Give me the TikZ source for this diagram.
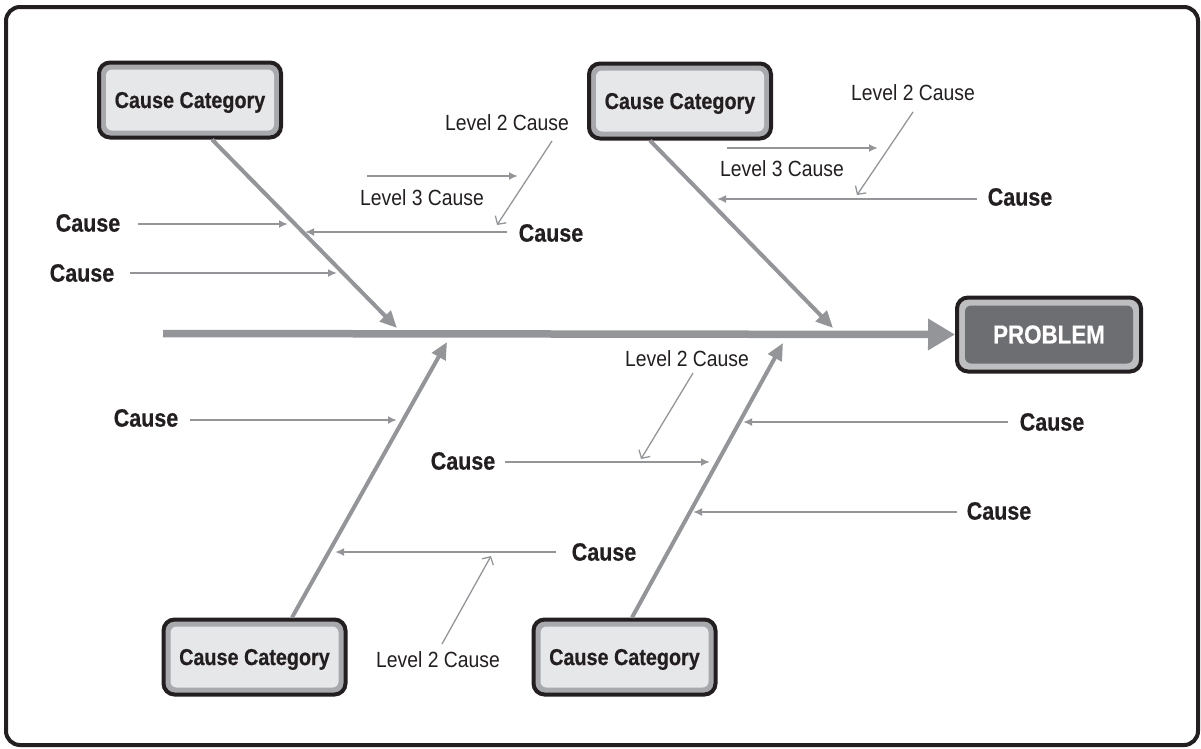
\documentclass[tikz,border=0pt]{standalone}
\usepackage{fontspec}
\usetikzlibrary{arrows.meta}
\newfontfamily\cfont[FakeStretch=0.86, BoldFeatures={FakeBold=0.5}]{Liberation Sans}
\newfontfamily\lfont[FakeStretch=0.88]{Liberation Sans}
\definecolor{fgray}{HTML}{939598}
\definecolor{ink}{HTML}{231F20}
\definecolor{band}{HTML}{A7A9AC}
\definecolor{pale}{HTML}{E6E7E8}
\definecolor{darkfill}{HTML}{6D6E71}
\definecolor{bandtwo}{HTML}{BCBEC0}
\tikzset{
  catbox/.style={draw=ink, line width=4pt, fill=band, rounded corners=11pt,
    minimum width=182pt, minimum height=75pt, inner sep=0pt, text=ink,
    text depth=0pt,
    font=\cfont\bfseries\fontsize{23}{27}\selectfont,
    path picture={\fill[pale, rounded corners=6pt]
      ([shift={(7pt,7pt)}]path picture bounding box.south west) rectangle
      ([shift={(-7pt,-7pt)}]path picture bounding box.north east);}},
  probbox/.style={draw=ink, line width=4pt, fill=bandtwo, rounded corners=11pt,
    minimum width=184pt, minimum height=74pt, inner sep=0pt, text=white,
    font=\cfont\bfseries\fontsize{26}{30}\selectfont,
    path picture={\fill[darkfill, rounded corners=6pt]
      ([shift={(8pt,8pt)}]path picture bounding box.south west) rectangle
      ([shift={(-8pt,-8pt)}]path picture bounding box.north east);}},
  causetxt/.style={text=ink, inner sep=0pt, font=\cfont\bfseries\fontsize{25}{29}\selectfont},
  lvltxt/.style={text=ink, inner sep=0pt, font=\lfont\fontsize{22}{26}\selectfont},
  bone/.style={draw=fgray, line width=4pt, -{Triangle[length=17pt,width=15pt]}},
  spine/.style={draw=fgray, line width=7.5pt, -{Triangle[length=27pt,width=30pt]}},
  causearr/.style={draw=fgray, line width=2pt, -{Latex[length=9pt,width=8pt]}},
  lvlarr/.style={draw=fgray, line width=1.3pt, -{Straight Barb[length=6pt,width=13pt]}},
}
\begin{document}
\begin{tikzpicture}[x=1pt,y=-1pt]
\useasboundingbox (0,0) rectangle (1201,748);
\draw[ink, line width=4pt, rounded corners=14pt] (6,7) rectangle (1198,745);

% boxes
\node[catbox] (tl) at (190,100) {Cause Category};
\node[catbox] (tr) at (680,101) {Cause Category};
\node[catbox] (bl) at (254.5,657) {Cause Category};
\node[catbox] (br) at (624.5,657) {Cause Category};
\node[probbox] (prob) at (1049,334.5) {PROBLEM};

% spine
\coordinate (spst) at (163,333.5);
\draw[spine] (spst) -- (prob.west);

% bones
\coordinate (tlend) at (397,328);
\coordinate (trend) at (833,328);
\coordinate (blend) at (447,342);
\coordinate (brend) at (783,343);
\draw[bone] ([xshift=22pt]tl.south) -- (tlend);
\draw[bone] ([xshift=-30pt]tr.south) -- (trend);
\draw[bone] ([xshift=37.5pt]bl.north) -- (blend);
\draw[bone] ([xshift=7.5pt]br.north) -- (brend);

% top-left branch
\node[causetxt] (c1) at (88,223) {Cause};
\coordinate (c1s) at (138,224); \coordinate (c1e) at (288,224);
\draw[causearr] (c1s) -- (c1e);
\node[causetxt] (c2) at (82,273) {Cause};
\coordinate (c2s) at (130,273); \coordinate (c2e) at (337,273);
\draw[causearr] (c2s) -- (c2e);
\node[causetxt] (c3) at (551,233) {Cause};
\coordinate (c3s) at (507,232); \coordinate (c3e) at (305,232);
\draw[causearr] (c3s) -- (c3e);
\node[lvltxt] (l3a) at (422,198) {Level 3 Cause};
\coordinate (l3as) at (367,176); \coordinate (l3ae) at (518,176);
\draw[causearr] (l3as) -- (l3ae);
\node[lvltxt] (l2a) at (507,123) {Level 2 Cause};
\coordinate (l2as) at (552,141); \coordinate (l2ae) at (497,225);
\draw[lvlarr] (l2as) -- (l2ae);

% top-right branch
\node[causetxt] (c4) at (1020,197) {Cause};
\coordinate (c4s) at (977,199); \coordinate (c4e) at (717,199);
\draw[causearr] (c4s) -- (c4e);
\node[lvltxt] (l3b) at (782,169) {Level 3 Cause};
\coordinate (l3bs) at (727,148); \coordinate (l3be) at (878,148);
\draw[causearr] (l3bs) -- (l3be);
\node[lvltxt] (l2b) at (913,93) {Level 2 Cause};
\coordinate (l2bs) at (913,112); \coordinate (l2be) at (857,195);
\draw[lvlarr] (l2bs) -- (l2be);

% bottom-left branch
\node[causetxt] (c5) at (146,418) {Cause};
\coordinate (c5s) at (190,420); \coordinate (c5e) at (397,420);
\draw[causearr] (c5s) -- (c5e);
\node[causetxt] (c6) at (604,552) {Cause};
\coordinate (c6s) at (556,552); \coordinate (c6e) at (335,552);
\draw[causearr] (c6s) -- (c6e);
\node[lvltxt] (l2c) at (438,660) {Level 2 Cause};
\coordinate (l2cs) at (442,644); \coordinate (l2ce) at (491,556);
\draw[lvlarr] (l2cs) -- (l2ce);

% bottom-right branch
\node[lvltxt] (l2d) at (687,359) {Level 2 Cause};
\coordinate (l2ds) at (693,373); \coordinate (l2de) at (641,459);
\draw[lvlarr] (l2ds) -- (l2de);
\node[causetxt] (c7) at (463,461) {Cause};
\coordinate (c7s) at (505,462); \coordinate (c7e) at (710,462);
\draw[causearr] (c7s) -- (c7e);
\node[causetxt] (c8) at (1052,422) {Cause};
\coordinate (c8s) at (1008,422); \coordinate (c8e) at (743,422);
\draw[causearr] (c8s) -- (c8e);
\node[causetxt] (c9) at (999,511) {Cause};
\coordinate (c9s) at (957,512); \coordinate (c9e) at (693,512);
\draw[causearr] (c9s) -- (c9e);
\end{tikzpicture}
\end{document}
